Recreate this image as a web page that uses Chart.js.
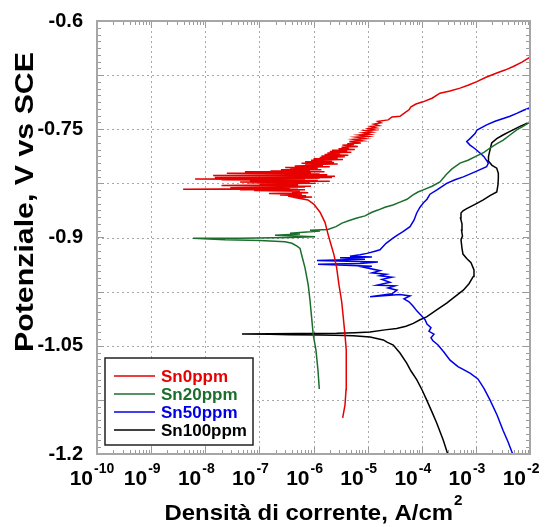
<!DOCTYPE html>
<html>
<head>
<meta charset="utf-8">
<script src="https://cdn.jsdelivr.net/npm/chart.js@4.4.1/dist/chart.umd.min.js"></script>
<style>
  html, body { margin: 0; padding: 0; background: #fff; }
  #wrap { width: 547px; height: 527px; }
</style>
</head>
<body>
<div id="wrap"><canvas id="myChart" width="547" height="527"></canvas></div>
<script>
// [current density A/cm2, potential V vs SCE]
const sn0 = [
  [3.46e-6,-1.150],[3.82e-6,-1.132],[3.99e-6,-1.111],[4.07e-6,-1.084],[3.99e-6,-1.056],[3.82e-6,-1.035],
  [3.51e-6,-1.007],[3.32e-6,-0.989],[2.96e-6,-0.966],[2.68e-6,-0.942],[2.39e-6,-0.924],[2.11e-6,-0.910],
  [1.88e-6,-0.897],[1.63e-6,-0.879],[1.32e-6,-0.865],[1.02e-6,-0.854],[7.9e-7,-0.848],
  [4.75e-7,-0.845],[9.4e-7,-0.844],[3.4e-7,-0.843],[7.3e-7,-0.842],[2.4e-7,-0.841],[6.1e-7,-0.840],
  [1.5e-7,-0.839],[8.0e-7,-0.838],[4.0e-7,-0.837],[5.6e-7,-0.836],[8.0e-8,-0.835],[7.0e-7,-0.834],
  [4.4e-8,-0.834],[5.2e-7,-0.833],[3.9e-9,-0.833],[3.7e-7,-0.832],[2.9e-8,-0.831],[7.0e-7,-0.830],
  [1.2e-7,-0.829],[9.0e-7,-0.829],[2.0e-8,-0.828],[5.2e-7,-0.827],[1.0e-7,-0.826],[1.1e-6,-0.825],
  [6.0e-8,-0.824],[8.6e-7,-0.824],[4.4e-8,-0.823],[2.0e-6,-0.822],[6.7e-8,-0.821],[1.2e-6,-0.821],
  [2.0e-8,-0.820],[7.0e-7,-0.820],[6.5e-9,-0.819],[1.3e-6,-0.818],[3.0e-8,-0.818],[2.2e-6,-0.817],
  [1.5e-8,-0.817],[1.0e-6,-0.816],[9.0e-8,-0.815],[2.5e-6,-0.815],[1.4e-8,-0.814],[1.8e-6,-0.813],
  [1.0e-7,-0.812],[1.3e-6,-0.812],[2.5e-8,-0.811],[9.0e-7,-0.810],[5.4e-8,-0.809],[1.6e-6,-0.809],
  [1.6e-7,-0.808],[8.6e-7,-0.807],[2.5e-7,-0.806],[1.4e-6,-0.806],[3.7e-7,-0.805],[1.2e-6,-0.804],
  [3.0e-7,-0.803],[2.0e-6,-0.802],[4.5e-7,-0.801],[1.5e-6,-0.800],[7.0e-7,-0.799],[2.8e-6,-0.798],
  [6.0e-7,-0.797],[2.4e-6,-0.796],[7.0e-7,-0.795],[2.2e-6,-0.794],[9.0e-7,-0.793],[3.5e-6,-0.792],
  [1.0e-6,-0.791],[2.8e-6,-0.790],[1.3e-6,-0.789],[3.8e-6,-0.788],[1.4e-6,-0.787],[4.4e-6,-0.786],
  [1.6e-6,-0.785],[3.1e-6,-0.784],[1.8e-6,-0.783],[5.0e-6,-0.782],[2.0e-6,-0.781],[4.2e-6,-0.780],
  [2.2e-6,-0.779],[5.8e-6,-0.778],[2.9e-6,-0.777],[4.5e-6,-0.776],[3.3e-6,-0.775],[6.6e-6,-0.774],
  [3.4e-6,-0.772],[5.6e-6,-0.771],[4.2e-6,-0.770],[7.5e-6,-0.769],[4.6e-6,-0.767],[7.9e-6,-0.766],
  [5.5e-6,-0.764],[9.0e-6,-0.763],[6.1e-6,-0.761],[1.02e-5,-0.760],[7.0e-6,-0.758],[1.1e-5,-0.757],
  [8.2e-6,-0.755],[1.2e-5,-0.754],[9.0e-6,-0.752],[1.35e-5,-0.751],[1.05e-5,-0.749],[1.43e-5,-0.748],
  [1.15e-5,-0.746],[1.6e-5,-0.745],[1.3e-5,-0.743],[1.77e-5,-0.741],[1.55e-5,-0.739],[2.4e-5,-0.737],
  [2.82e-5,-0.733],[3.96e-5,-0.732],[4.9e-5,-0.727],[5.81e-5,-0.723],[6.33e-5,-0.719],[7.83e-5,-0.715],
  [1.05e-4,-0.712],[1.55e-4,-0.707],[2.17e-4,-0.700],[3.33e-4,-0.697],[5.09e-4,-0.693],[7.15e-4,-0.689],
  [1.04e-3,-0.684],[1.54e-3,-0.678],[2.43e-3,-0.672],[3.45e-3,-0.668],[4.91e-3,-0.663],[7.11e-3,-0.657],
  [1e-2,-0.650]
];
const sn20 = [
  [1.28e-6,-1.110],[1.21e-6,-1.084],[1.11e-6,-1.056],[9.9e-7,-1.035],[9.18e-7,-1.009],[8.61e-7,-0.987],
  [8.0e-7,-0.966],[6.97e-7,-0.942],[6.13e-7,-0.926],[5.63e-7,-0.915],[4.96e-7,-0.912],[4.0e-7,-0.908],
  [2.97e-7,-0.906],[1.03e-7,-0.904],[2.32e-8,-0.903],[5.94e-9,-0.901],[4.39e-8,-0.901],[3.68e-7,-0.900],
  [1.07e-6,-0.899],[1.94e-7,-0.897],[5.63e-7,-0.895],[3.68e-7,-0.894],[1.32e-6,-0.891],[8.61e-7,-0.890],
  [1.85e-6,-0.889],[2.6e-6,-0.885],[3.36e-6,-0.880],[4.72e-6,-0.876],[6.36e-6,-0.873],[8.94e-6,-0.870],
  [1.2e-5,-0.865],[1.55e-5,-0.862],[2.09e-5,-0.858],[2.94e-5,-0.855],[3.96e-5,-0.851],[5.34e-5,-0.847],
  [6.89e-5,-0.841],[8.53e-5,-0.837],[1.15e-4,-0.833],[1.55e-4,-0.829],[2.17e-4,-0.823],[2.81e-4,-0.813],
  [3.62e-4,-0.805],[5.09e-4,-0.797],[7.15e-4,-0.793],[1.04e-3,-0.787],[1.41e-3,-0.782],[1.82e-3,-0.776],
  [2.46e-3,-0.770],[3.21e-3,-0.765],[4.27e-3,-0.758],[5.68e-3,-0.751],[7.42e-3,-0.746],[1e-2,-0.740]
];
const sn50 = [
  [4.79e-3,-1.200],[3.92e-3,-1.183],[3.17e-3,-1.167],[2.46e-3,-1.146],[1.82e-3,-1.125],[1.41e-3,-1.109],
  [1.09e-3,-1.096],[7.79e-4,-1.088],[4.67e-4,-1.079],[3.33e-4,-1.070],[2.58e-4,-1.059],[2.0e-4,-1.049],
  [1.61e-4,-1.043],[1.48e-4,-1.039],[1.68e-4,-1.034],[1.36e-4,-1.030],[1.48e-4,-1.025],[1.25e-4,-1.020],
  [1.15e-4,-1.014],[1.01e-4,-1.009],[8.17e-5,-1.002],[6.89e-5,-0.995],[5.81e-5,-0.989],[4.7e-5,-0.985],
  [6.07e-5,-0.981],[3.96e-5,-0.979],[1.11e-5,-0.982],[2.82e-5,-0.978],[3.49e-5,-0.973],[2.38e-5,-0.970],
  [3.2e-5,-0.967],[1.49e-5,-0.966],[2.59e-5,-0.962],[1.84e-5,-0.958],[2.82e-5,-0.955],[1.69e-5,-0.953],
  [2.19e-5,-0.951],[1.2e-5,-0.949],[1.69e-5,-0.946],[8.17e-6,-0.941],[1.2e-5,-0.940],[1.21e-6,-0.937],
  [7.23e-6,-0.936],[1.55e-5,-0.934],[1.16e-6,-0.932],[8.94e-6,-0.930],[3.09e-6,-0.928],[1.2e-5,-0.927],
  [4.72e-6,-0.926],[7.23e-6,-0.924],[9.73e-6,-0.922],[1.37e-5,-0.919],[1.69e-5,-0.917],[2.19e-5,-0.908],
  [2.94e-5,-0.901],[3.49e-5,-0.897],[4.5e-5,-0.892],[6.07e-5,-0.885],[7.19e-5,-0.876],[8.07e-5,-0.866],
  [9.29e-5,-0.858],[1.1e-4,-0.851],[1.25e-4,-0.847],[1.42e-4,-0.840],[1.91e-4,-0.834],[2.89e-4,-0.825],
  [4.11e-4,-0.820],[5.86e-4,-0.816],[9.64e-4,-0.809],[1.58e-3,-0.802],[1.7e-3,-0.797],[1.41e-3,-0.788],
  [1.19e-3,-0.783],[9.64e-4,-0.777],[7.79e-4,-0.772],[6.77e-4,-0.767],[7.79e-4,-0.763],[9.64e-4,-0.756],
  [1.05e-3,-0.751],[1.58e-3,-0.744],[2.26e-3,-0.739],[3.21e-3,-0.735],[4.27e-3,-0.732],[5.68e-3,-0.728],
  [7.42e-3,-0.724],[1e-2,-0.720]
];
const sn100 = [
  [3.02e-4,-1.200],[2.5e-4,-1.181],[1.89e-4,-1.157],[1.55e-4,-1.142],[1.23e-4,-1.125],[1.01e-4,-1.111],
  [8.07e-5,-1.097],[6.33e-5,-1.085],[5.27e-5,-1.074],[3.96e-5,-1.060],[2.98e-5,-1.049],[2.28e-5,-1.045],
  [1.95e-5,-1.042],[1.11e-5,-1.038],[5.44e-6,-1.036],[2.5e-6,-1.0355],[1.32e-6,-1.035],[3.68e-7,-1.0346],
  [1.57e-7,-1.0342],[4.77e-8,-1.0337],[1.57e-7,-1.0334],[5.63e-7,-1.033],[2.68e-6,-1.0328],[5.84e-6,-1.032],
  [1.11e-5,-1.031],[2.09e-5,-1.028],[3.44e-5,-1.026],[5.12e-5,-1.023],[6.98e-5,-1.019],[9.29e-5,-1.014],
  [1.23e-4,-1.010],[1.83e-4,-1.001],[2.89e-4,-0.991],[4.11e-4,-0.982],[5.86e-4,-0.973],[7.46e-4,-0.964],
  [8.96e-4,-0.954],[9.23e-4,-0.945],[8.13e-4,-0.935],[6.77e-4,-0.929],[5.78e-4,-0.923],[5.54e-4,-0.915],
  [5.31e-4,-0.903],[5.66e-4,-0.898],[5.43e-4,-0.890],[5.54e-4,-0.881],[5.2e-4,-0.873],[5.31e-4,-0.866],
  [5.78e-4,-0.863],[6.77e-4,-0.860],[9.64e-4,-0.854],[1.37e-3,-0.848],[1.82e-3,-0.842],[2.43e-3,-0.837],
  [2.56e-3,-0.827],[2.6e-3,-0.818],[2.6e-3,-0.811],[2.43e-3,-0.804],[1.99e-3,-0.800],[1.7e-3,-0.794],
  [1.71e-3,-0.788],[1.82e-3,-0.779],[1.96e-3,-0.769],[2.43e-3,-0.763],[3.17e-3,-0.758],[4.27e-3,-0.753],
  [6.53e-3,-0.746],[1e-2,-0.740]
];

const seriesNames = ['Sn0ppm', 'Sn20ppm', 'Sn50ppm', 'Sn100ppm'];
const seriesData = [sn0, sn20, sn50, sn100];
const seriesColors = ['#e60000', '#1b6e2c', '#0000e6', '#000000'];

const xTickValues = [1e-10, 1e-9, 1e-8, 1e-7, 1e-6, 1e-5, 1e-4, 1e-3, 1e-2];
const xTickExponents = ['-10', '-9', '-8', '-7', '-6', '-5', '-4', '-3', '-2'];
const yGridValues = [-1.2, -1.125, -1.05, -0.975, -0.9, -0.825, -0.75, -0.675, -0.6];
const yTickLabels = [-1.2, -1.05, -0.9, -0.75, -0.6];

const xTitle = 'Densità di corrente, A/cm';
const xTitleSup = '2';
const yTitle = 'Potenziale, V vs SCE';

const FONT = '"Liberation Sans", Arial, sans-serif';

// dotted grid, inner ticks, frame, legend, x labels and axis titles
const decor = {
  id: 'decor',
  beforeDatasetsDraw(chart) {
    const { ctx, chartArea: a, scales: { x, y } } = chart;
    ctx.save();
    ctx.strokeStyle = '#a8a8a8';
    ctx.lineWidth = 1;
    ctx.setLineDash([2, 3]);
    ctx.beginPath();
    xTickValues.slice(1, -1).forEach(v => {
      const px = Math.round(x.getPixelForValue(v)) + 0.5;
      ctx.moveTo(px, a.top); ctx.lineTo(px, a.bottom);
    });
    yGridValues.slice(1, -1).forEach(v => {
      const py = Math.round(y.getPixelForValue(v)) + 0.5;
      ctx.moveTo(a.left, py); ctx.lineTo(a.right, py);
    });
    ctx.stroke();
    ctx.restore();
  },
  afterDatasetsDraw(chart) {
    const { ctx, chartArea: a, scales: { x, y } } = chart;
    ctx.save();

    ctx.strokeStyle = '#9a9a9a';
    ctx.lineWidth = 1;
    ctx.beginPath();
    xTickValues.forEach((d, i) => {
      for (let m = 1; m < 10; m++) {
        if (i === xTickValues.length - 1 && m > 1) break;
        const px = Math.round(x.getPixelForValue(d * m)) + 0.5;
        const len = m === 1 ? 7 : 4;
        ctx.moveTo(px, a.bottom); ctx.lineTo(px, a.bottom - len);
        ctx.moveTo(px, a.top); ctx.lineTo(px, a.top + len);
      }
    });
    const yMin = yGridValues[0], yMax = yGridValues[yGridValues.length - 1];
    for (let k = 0; k <= 64; k++) {
      const py = Math.round(y.getPixelForValue(yMin + k * (yMax - yMin) / 64)) + 0.5;
      const len = k % 8 === 0 ? 7 : 4;
      ctx.moveTo(a.left, py); ctx.lineTo(a.left + len, py);
      ctx.moveTo(a.right, py); ctx.lineTo(a.right - len, py);
    }
    ctx.stroke();

    ctx.strokeStyle = '#a6a6a6';
    ctx.lineWidth = 2;
    ctx.strokeRect(a.left, a.top, a.right - a.left, a.bottom - a.top);

    // legend box
    const bx = a.left + 8, by = a.bottom - 96, bw = 148, bh = 87;
    ctx.fillStyle = '#fff';
    ctx.fillRect(bx, by, bw, bh);
    ctx.strokeStyle = '#222';
    ctx.lineWidth = 1.5;
    ctx.strokeRect(bx, by, bw, bh);
    ctx.font = 'bold 17px ' + FONT;
    ctx.textBaseline = 'middle';
    ctx.textAlign = 'left';
    seriesNames.forEach((name, i) => {
      const ry = by + 18 + i * 18;
      ctx.strokeStyle = seriesColors[i];
      ctx.lineWidth = 1.5;
      ctx.beginPath();
      ctx.moveTo(bx + 9, ry); ctx.lineTo(bx + 50, ry);
      ctx.stroke();
      ctx.fillStyle = seriesColors[i];
      ctx.fillText(name, bx + 56, ry + 1);
    });
    ctx.restore();
  },
  afterDraw(chart) {
    const { ctx, chartArea: a, scales: { x } } = chart;
    ctx.save();
    ctx.fillStyle = '#000';
    ctx.textBaseline = 'alphabetic';

    xTickValues.forEach((v, i) => {
      const px = x.getPixelForValue(v);
      ctx.font = 'bold 21px ' + FONT;
      ctx.textAlign = 'right';
      ctx.fillText('10', px - 4, a.bottom + 31);
      ctx.font = 'bold 14px ' + FONT;
      ctx.textAlign = 'left';
      ctx.fillText(xTickExponents[i], px - 3, a.bottom + 19);
    });

    // x title, fitted to the width it takes in the original
    ctx.font = 'bold 22px ' + FONT;
    const w1 = ctx.measureText(xTitle).width;
    ctx.font = 'bold 14px ' + FONT;
    const w2 = ctx.measureText(xTitleSup).width;
    const total = w1 + w2 + 1;
    ctx.save();
    ctx.translate((a.left + a.right) / 2, 520);
    ctx.scale(298 / total, 1);
    ctx.textAlign = 'left';
    ctx.font = 'bold 22px ' + FONT;
    ctx.fillText(xTitle, -total / 2, 0);
    ctx.font = 'bold 14px ' + FONT;
    ctx.fillText(xTitleSup, -total / 2 + w1 + 1, -15);
    ctx.restore();

    // y title
    ctx.save();
    ctx.font = 'bold 25px ' + FONT;
    const wy = ctx.measureText(yTitle).width;
    ctx.translate(33, 202);
    ctx.rotate(-Math.PI / 2);
    ctx.scale(300 / wy, 1);
    ctx.textAlign = 'center';
    ctx.fillText(yTitle, 0, 0);
    ctx.restore();

    ctx.restore();
  }
};

const ctx = document.getElementById('myChart');
const myChart = new Chart(ctx, {
  type: 'scatter',
  data: {
    datasets: seriesNames.map((name, i) => ({
      label: name,
      data: seriesData[i].map(p => ({ x: p[0], y: p[1] })),
      showLine: true,
      borderColor: seriesColors[i],
      backgroundColor: seriesColors[i],
      borderWidth: 1.5,
      pointRadius: 0,
      tension: 0,
      fill: false
    }))
  },
  options: {
    responsive: false,
    animation: false,
    events: [],
    layout: { padding: { top: 21, right: 17, left: 0, bottom: 0 } },
    plugins: {
      legend: { display: false },
      tooltip: { enabled: false }
    },
    scales: {
      x: {
        type: 'logarithmic',
        min: xTickValues[0],
        max: xTickValues[xTickValues.length - 1],
        afterBuildTicks: s => { s.ticks = xTickValues.map(v => ({ value: v })); },
        afterFit: s => { s.height = 73; },
        ticks: { display: false },
        grid: { display: false },
        border: { display: false }
      },
      y: {
        min: yGridValues[0],
        max: yGridValues[yGridValues.length - 1],
        afterBuildTicks: s => { s.ticks = yGridValues.map(v => ({ value: v })); },
        afterFit: s => { s.width = 97; },
        ticks: {
          padding: 6,
          color: '#000',
          font: { family: FONT, size: 20, weight: 'bold' },
          callback: v => yTickLabels.includes(v) ? String(v) : ''
        },
        grid: { display: false },
        border: { display: false }
      }
    }
  },
  plugins: [decor]
});
</script>
</body>
</html>
